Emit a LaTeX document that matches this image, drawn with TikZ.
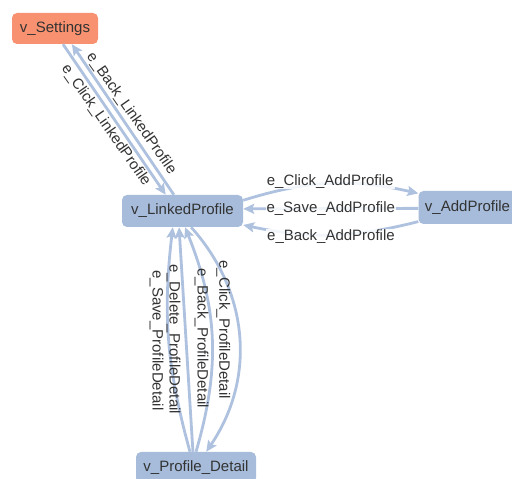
\documentclass[tikz,border=0pt]{standalone}
\usepackage{fontspec}
\setmainfont{Liberation Sans}
\usetikzlibrary{arrows.meta}
\definecolor{edgecol}{RGB}{174,194,223}
\definecolor{nodecol}{RGB}{166,188,218}
\definecolor{salmon}{RGB}{247,145,111}
\definecolor{txt}{RGB}{51,51,51}
\begin{document}
\begin{tikzpicture}[x=1pt,y=1pt,
  vbox/.style={draw=none, fill=nodecol, rounded corners=5pt, minimum height=31pt,
               font=\fontsize{15}{17}\selectfont, text=txt, inner sep=0pt},
  conn/.style={draw=edgecol, line width=2.8pt,
               -{Stealth[length=11pt,width=10pt,inset=2pt]}},
  elabel/.style={font=\fontsize{15}{17}\selectfont, text=txt, inner sep=2pt},
  hlabel/.style={elabel, fill=white, fill opacity=0.85, text opacity=1, inner sep=1pt},
  vlabel/.style={elabel, rotate=-90, anchor=north, inner sep=4pt}
]
\clip (0,0) rectangle (512,479);
\node[vbox, fill=salmon, minimum width=86pt] (S) at (55,450.5) {v\_Settings};
\node[vbox, minimum width=121pt, minimum height=32pt] (LP) at (182.5,268) {v\_LinkedProfile};
\node[vbox, minimum width=98pt, minimum height=33pt] (AP) at (467.5,271.5) {v\_AddProfile};
\node[vbox, minimum width=120pt] (PD) at (196,11.5) {v\_Profile\_Detail};

% Settings <-> LinkedProfile
\draw[conn] (S.-63) to node[elabel, rotate=-55, anchor=north] {e\_Click\_LinkedProfile} (LP.136);
\draw[conn] (LP.118) to node[elabel, rotate=-55, anchor=south] {e\_Back\_LinkedProfile} (S.-43);

% LinkedProfile <-> AddProfile
\draw[conn] (LP.10) to[bend left=15] node[hlabel, yshift=2pt] {e\_Click\_AddProfile} (AP.164);
\draw[conn] (AP.181) to node[hlabel] {e\_Save\_AddProfile} (LP.2);
\draw[conn] (AP.196) to[bend left=13] node[hlabel, yshift=-2pt] {e\_Back\_AddProfile} (LP.-13);

% LinkedProfile <-> Profile_Detail
\draw[conn] (PD.111) to[bend left=11] node[vlabel] {e\_Save\_ProfileDetail} (LP.-121);
\draw[conn] (PD.101) to node[vlabel] {e\_Delete\_ProfileDetail} (LP.-102);
\draw[conn] (PD.north) to[bend right=19] node[vlabel, inner sep=2pt] {e\_Back\_ProfileDetail} (LP.-81);
\draw[conn] (LP.-62) to[bend left=38] node[vlabel, pos=0.47, inner sep=7pt] {e\_Click\_ProfileDetail} (PD.57);
\end{tikzpicture}
\end{document}
